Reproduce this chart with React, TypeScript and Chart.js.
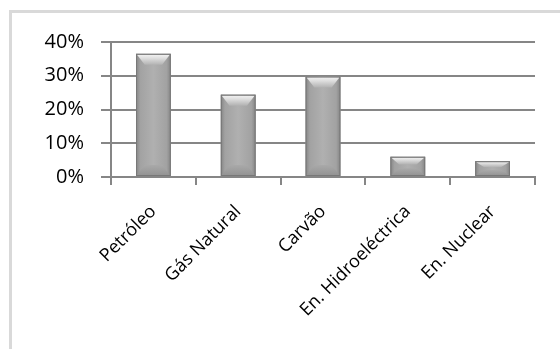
import React, { useEffect, useRef } from 'react';
import { Chart, registerables } from 'chart.js';

Chart.register(...registerables);

const categories = ['Petróleo', 'Gás Natural', 'Carvão', 'En. Hidroeléctrica', 'En. Nuclear'];
const shares = [36.5, 24.4, 29.8, 6.0, 4.7];
const yMax = 40;
const yStep = 10;

const FONT = '"Open Sans", "Noto Sans", sans-serif';
const AXIS = '#868686';

const bevelPlugin = {
  id: 'bevel',
  afterDatasetsDraw(chart: any) {
    const ctx = chart.ctx as CanvasRenderingContext2D;
    const meta = chart.getDatasetMeta(0);
    meta.data.forEach((el: any) => {
      const { x, y, base, width } = el.getProps(['x', 'y', 'base', 'width'], true);
      const l = x - width / 2;
      const r = x + width / 2;
      const t = Math.min(y, base);
      const b = Math.max(y, base);
      const h = b - t;
      ctx.save();
      const g = ctx.createLinearGradient(l, 0, r, 0);
      g.addColorStop(0, '#858585');
      g.addColorStop(0.12, '#a2a2a2');
      g.addColorStop(0.5, '#b0b0b0');
      g.addColorStop(0.88, '#a2a2a2');
      g.addColorStop(1, '#858585');
      ctx.fillStyle = g;
      ctx.fillRect(l, t, width, h);
      const bv = Math.min(11, h / 2.5);
      const inset = Math.min(9, width * 0.25);
      const tg = ctx.createLinearGradient(0, t, 0, t + bv);
      tg.addColorStop(0, '#f6f6f6');
      tg.addColorStop(0.4, '#dedede');
      tg.addColorStop(1, '#b2b2b2');
      ctx.fillStyle = tg;
      ctx.beginPath();
      ctx.moveTo(l + 1, t + 1);
      ctx.lineTo(r - 1, t + 1);
      ctx.lineTo(r - inset, t + bv);
      ctx.lineTo(l + inset, t + bv);
      ctx.closePath();
      ctx.fill();
      const bg = ctx.createLinearGradient(0, b - bv, 0, b);
      bg.addColorStop(0, '#a9a9a9');
      bg.addColorStop(1, '#929292');
      ctx.fillStyle = bg;
      ctx.beginPath();
      ctx.moveTo(l + inset, b - bv);
      ctx.lineTo(r - inset, b - bv);
      ctx.lineTo(r - 1, b - 1);
      ctx.lineTo(l + 1, b - 1);
      ctx.closePath();
      ctx.fill();
      ctx.strokeStyle = '#787878';
      ctx.lineWidth = 1;
      ctx.strokeRect(l + 0.5, t + 0.5, width - 1, h - 1);
      ctx.restore();
    });
  },
};

export default function App() {
  const ref = useRef<HTMLCanvasElement>(null);

  useEffect(() => {
    if (!ref.current) return;
    const chart = new Chart(ref.current, {
      type: 'bar',
      data: {
        labels: categories,
        datasets: [
          {
            data: shares,
            backgroundColor: '#a8a8a8',
            borderWidth: 0,
            barPercentage: 0.41,
            categoryPercentage: 1.0,
          },
        ],
      },
      options: {
        animation: false,
        responsive: false,
        maintainAspectRatio: false,
        layout: { padding: { top: 42, right: 25, left: 0, bottom: 0 } },
        plugins: { legend: { display: false }, tooltip: { enabled: false } },
        scales: {
          x: {
            offset: true,
            grid: {
              display: true,
              drawOnChartArea: false,
              drawTicks: true,
              tickLength: 8,
              color: AXIS,
              lineWidth: 2,
              offset: true,
            },
            border: { display: true, color: AXIS, width: 2 },
            ticks: {
              maxRotation: 45,
              minRotation: 45,
              autoSkip: false,
              font: { family: FONT, size: 18 },
              color: '#000',
              padding: 16,
            },
            afterFit: (s: any) => {
              s.height = 349 - 177;
            },
          },
          y: {
            min: 0,
            max: yMax,
            ticks: {
              stepSize: yStep,
              callback: (v: any) => v + '%',
              font: { family: FONT, size: 20 },
              color: '#000',
              padding: 17,
            },
            grid: { color: AXIS, lineWidth: 2, tickLength: 10 },
            border: { display: true, color: AXIS, width: 2 },
            afterFit: (s: any) => {
              s.width = 111;
            },
          },
        },
      },
      plugins: [bevelPlugin],
    });
    return () => chart.destroy();
  }, []);

  return (
    <div
      style={{
        position: 'absolute',
        left: 0,
        top: 0,
        width: 560,
        height: 349,
        overflow: 'hidden',
        background: '#fff',
      }}
    >
      <div
        style={{
          position: 'absolute',
          left: 9,
          top: 10,
          width: 600,
          height: 400,
          border: '3px solid #d9d9d9',
          boxSizing: 'border-box',
        }}
      />
      <canvas
        ref={ref}
        width={560}
        height={349}
        style={{ position: 'absolute', left: 0, top: 0, width: 560, height: 349 }}
      />
    </div>
  );
}
